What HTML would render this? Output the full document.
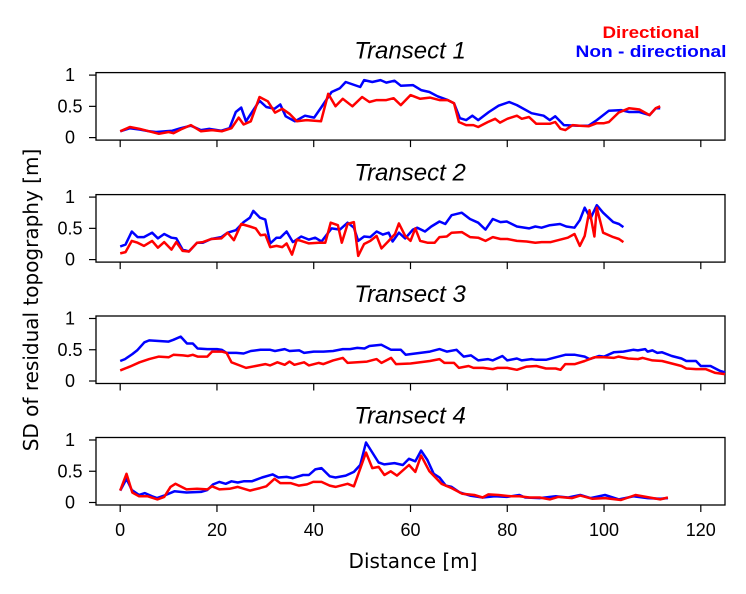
<!DOCTYPE html>
<html><head><meta charset="utf-8"><style>
html,body{margin:0;padding:0;background:#fff;}
svg{display:block;font-family:"Liberation Sans",sans-serif;}
</style></head><body>
<svg id="chart" width="746" height="594" xmlns="http://www.w3.org/2000/svg">
<text x="651" y="38" text-anchor="middle" font-size="17" font-weight="bold" fill="#ff0000" textLength="97" lengthAdjust="spacingAndGlyphs">Directional</text>
<text x="651" y="57" text-anchor="middle" font-size="17" font-weight="bold" fill="#0000ff" textLength="151" lengthAdjust="spacingAndGlyphs">Non - directional</text>
<text transform="translate(38,300) rotate(-90)" text-anchor="middle" font-size="20" font-family="DejaVu Sans, sans-serif" fill="#000">SD of residual topography [m]</text>
<text x="413" y="568" text-anchor="middle" font-size="20" font-family="DejaVu Sans, sans-serif" fill="#000">Distance [m]</text>
<g id="panels"></g>
</svg>
<script>
const xTicks=[0,20,40,60,80,100,120];
const yTicks=[0,0.5,1];
const yTickLabels=["0","0.5","1"];
const titles=["Transect 1","Transect 2","Transect 3","Transect 4"];
const t1BlueX=[0,2,4,6,7.4,10.8,12.5,14.6,16.7,18.4,20.9,22.6,23.9,25,26,28.8,30.2,31.9,33.1,34.2,36.1,38.2,40.1,41.6,43.7,45.4,46.6,49.6,50.4,52.1,53.8,55,56.7,58,60.5,62.2,63.9,65.6,67.7,69,70.2,71.5,72.8,74,76.2,78.2,80.4,82,85,87.5,88.8,89.9,91.7,94.7,96.8,98.5,101,103.5,105.2,107.3,109.4,110.7,111.6];
const t1BlueY=[0.1,0.15,0.13,0.1,0.09,0.11,0.15,0.19,0.12,0.14,0.11,0.15,0.41,0.48,0.26,0.59,0.49,0.46,0.53,0.34,0.26,0.35,0.32,0.49,0.73,0.79,0.89,0.81,0.92,0.89,0.92,0.88,0.91,0.83,0.84,0.76,0.73,0.66,0.6,0.55,0.31,0.28,0.35,0.28,0.41,0.51,0.57,0.52,0.39,0.35,0.28,0.34,0.2,0.19,0.19,0.28,0.43,0.44,0.41,0.41,0.36,0.47,0.47];
const t1RedX=[0,2,4,6,8,10,11,12.5,14.6,16.7,19,21,23,24.5,25.5,27,28.8,30.5,32,33.5,35,36.5,38.5,41.5,43,44.5,46,48,50,51.5,53,55,56.5,58,60,62,64,66,67.7,69,70,71.5,73,74,76,77.5,78.5,80,82,83,84.5,86,88.8,89.9,91,92,93.5,95,96.8,98.5,100,101,103,105.2,107.3,109.4,110.7,111.6];
const t1RedY=[0.1,0.17,0.14,0.1,0.06,0.09,0.07,0.13,0.2,0.1,0.12,0.1,0.15,0.32,0.21,0.26,0.65,0.58,0.4,0.46,0.38,0.26,0.28,0.26,0.7,0.5,0.62,0.5,0.65,0.57,0.6,0.6,0.63,0.52,0.68,0.62,0.64,0.6,0.6,0.55,0.25,0.2,0.2,0.17,0.25,0.3,0.24,0.3,0.35,0.3,0.33,0.22,0.22,0.25,0.14,0.12,0.2,0.19,0.18,0.23,0.23,0.25,0.4,0.47,0.45,0.36,0.47,0.5];
const t2BlueX=[0,1.1,2.4,3.6,4.9,6.6,7.8,9.1,10.6,11.6,12.9,14.2,15.9,17.1,18.8,20.9,22.2,23.9,25.5,26.8,27.5,28.9,30,31,32.3,33.1,34.4,35.7,37.4,39,40.3,41.6,43.7,45.4,47,48.3,49.2,50.4,51.7,53,54.3,55.5,56.3,57.6,58.9,60.5,61.4,63,64.3,66,67.2,68.5,70.6,72.3,74,75.5,77,78.6,79.9,82,84.5,85.8,87.1,88.8,90.9,92.2,93.9,95,96,97.2,98.5,99.8,101.9,103.1,104];
const t2BlueY=[0.21,0.24,0.45,0.36,0.36,0.43,0.34,0.41,0.35,0.34,0.16,0.13,0.27,0.27,0.33,0.36,0.43,0.47,0.6,0.67,0.78,0.67,0.64,0.26,0.35,0.35,0.45,0.28,0.37,0.32,0.35,0.29,0.5,0.48,0.59,0.51,0.3,0.37,0.36,0.45,0.4,0.43,0.29,0.43,0.34,0.48,0.51,0.45,0.53,0.61,0.57,0.71,0.75,0.65,0.59,0.48,0.65,0.6,0.61,0.53,0.5,0.53,0.51,0.55,0.57,0.53,0.51,0.63,0.83,0.66,0.87,0.75,0.6,0.57,0.52];
const t2RedX=[0,1.1,2.4,3.6,4.9,6.6,7.8,9.1,10.6,11.6,12.9,14.2,15.9,17.1,18.8,20.9,22.2,23.5,25,26.8,28,29,30,31,32.3,33.5,34.4,35.5,36.5,37.4,39,41,42.4,43.5,45,45.8,47,48.3,49.2,50.4,51.7,53,54,55.5,56.8,57.6,58.9,60,61,62,63.5,65,66,67.5,68.5,70.6,72.3,74,75.5,77,78.6,80,82,84,85.8,87.1,89,91,92.5,93.9,95,96,97,98,98.5,99.8,101.9,103.1,104];
const t2RedY=[0.1,0.12,0.3,0.27,0.22,0.3,0.19,0.28,0.16,0.28,0.14,0.13,0.27,0.28,0.33,0.34,0.43,0.31,0.57,0.53,0.5,0.39,0.4,0.2,0.22,0.2,0.26,0.08,0.32,0.3,0.26,0.27,0.27,0.59,0.55,0.27,0.57,0.6,0.06,0.25,0.3,0.38,0.18,0.3,0.41,0.58,0.38,0.3,0.5,0.3,0.27,0.27,0.36,0.37,0.43,0.44,0.36,0.35,0.3,0.36,0.33,0.33,0.3,0.29,0.27,0.28,0.28,0.32,0.35,0.41,0.22,0.38,0.79,0.37,0.83,0.43,0.36,0.33,0.28];
const t3BlueX=[0,1,2.5,3.5,5,6,8,10,11,12.5,13.8,15,16,18,20,21,22,24,25.5,27,29,31,32,34,35,37,38,40,42,44,46,47.5,49,50.5,51.5,54,56,58,59,61,64,66,67.5,69.5,71,72.5,74,76,77,79,80,82,83,85,86,88,90,92,94,96,97,99,100,102,104,106,107,108.5,109,110,111,112,114,116,117,119,120,122,124,125];
const t3BlueY=[0.32,0.35,0.43,0.49,0.62,0.65,0.64,0.63,0.66,0.71,0.6,0.6,0.52,0.51,0.51,0.5,0.45,0.45,0.44,0.48,0.5,0.5,0.48,0.51,0.48,0.49,0.45,0.47,0.47,0.48,0.51,0.51,0.53,0.52,0.56,0.58,0.5,0.5,0.42,0.44,0.47,0.51,0.47,0.5,0.39,0.41,0.33,0.35,0.33,0.4,0.33,0.36,0.33,0.35,0.34,0.34,0.38,0.42,0.42,0.39,0.35,0.4,0.39,0.46,0.47,0.5,0.49,0.51,0.47,0.49,0.45,0.46,0.4,0.36,0.32,0.32,0.24,0.24,0.16,0.14];
const t3RedX=[0,2,4,6,8,10,11,13,14,15,16,18,19,21,22,23,25,26,28,30,31,32.5,34,35,36,38,39,41,42,44,46,47,49,51,53,54,56,57,60,62,64,66,67,69,70,72,73,75,77,78,80,82,84,86,88,90,91,92,94,96,98,100,102,103,105,107,108,110,112,114,116,117,119,121,123,125];
const t3RedY=[0.17,0.23,0.3,0.35,0.39,0.38,0.42,0.41,0.4,0.42,0.39,0.39,0.47,0.47,0.45,0.3,0.24,0.21,0.24,0.27,0.25,0.3,0.26,0.31,0.26,0.3,0.25,0.29,0.27,0.33,0.37,0.29,0.3,0.31,0.35,0.29,0.37,0.27,0.28,0.3,0.32,0.35,0.29,0.29,0.21,0.24,0.21,0.21,0.19,0.21,0.21,0.18,0.23,0.24,0.2,0.2,0.18,0.27,0.27,0.32,0.38,0.38,0.37,0.39,0.36,0.35,0.37,0.33,0.32,0.28,0.24,0.2,0.19,0.19,0.13,0.11];
const t4BlueX=[0,1.3,2.4,3.9,5.1,6.6,7.6,9.1,11.2,13.7,16.7,18,19.2,20.5,21.8,23,24.3,25.5,27.2,29.3,31.5,32.7,34.4,35.7,37.8,39,40.3,41.6,43.3,44.5,46.6,48.3,49.6,50.8,52.1,53.4,54.6,56.7,58.4,59.7,61,62.2,63.5,64.8,66,67.3,68.5,70.2,72.3,74.9,77.4,79.9,82.5,83.7,86.7,90,92.6,95.1,97.2,100.2,103.1,106.1,109,111.6,113.2];
const t4BlueY=[0.19,0.38,0.2,0.12,0.15,0.1,0.07,0.11,0.18,0.16,0.17,0.2,0.29,0.33,0.3,0.34,0.32,0.34,0.34,0.4,0.45,0.4,0.41,0.39,0.44,0.44,0.53,0.55,0.42,0.4,0.43,0.49,0.6,0.96,0.8,0.64,0.61,0.63,0.6,0.7,0.66,0.83,0.68,0.46,0.4,0.27,0.25,0.16,0.11,0.08,0.1,0.09,0.12,0.08,0.07,0.1,0.08,0.12,0.07,0.12,0.05,0.1,0.07,0.06,0.07];
const t4RedX=[0,1.3,2.5,3.9,5.7,7.7,9.1,10.4,11.4,13.7,15.9,18,19,20.5,22.6,24.3,26.8,28.9,30.2,31.9,33.1,35.2,36.9,38.6,39.9,41.6,43.3,44.5,47,48.3,50.8,52.1,53.4,54.6,55.9,57.2,59.7,61,62.2,63.9,66.4,68.5,70.7,73.2,74.9,76.1,78.2,80.8,82.5,84.6,86.7,88.8,90.5,93.4,95.1,97.6,100.2,103.5,106.5,109.4,111.6,113.2];
const t4RedY=[0.19,0.46,0.16,0.1,0.1,0.05,0.09,0.25,0.3,0.21,0.22,0.21,0.26,0.21,0.22,0.25,0.19,0.23,0.26,0.38,0.31,0.31,0.27,0.29,0.33,0.33,0.27,0.25,0.3,0.26,0.8,0.55,0.57,0.44,0.5,0.43,0.6,0.49,0.75,0.5,0.3,0.23,0.14,0.12,0.08,0.13,0.12,0.1,0.1,0.08,0.08,0.05,0.09,0.07,0.11,0.06,0.07,0.04,0.12,0.08,0.05,0.08];
const series=[[t1BlueX,t1BlueY,t1RedX,t1RedY],[t2BlueX,t2BlueY,t2RedX,t2RedY],[t3BlueX,t3BlueY,t3RedX,t3RedY],[t4BlueX,t4BlueY,t4RedX,t4RedY]];
const NS="http://www.w3.org/2000/svg";
const L=96,R=725,H=67.5,tops=[72.6,194.6,316,437.5];
const xMin=-5,xMax=125;
function xs(v){return L+(v-xMin)/(xMax-xMin)*(R-L);}
function mk(tag,attrs){const e=document.createElementNS(NS,tag);for(const k in attrs)e.setAttribute(k,attrs[k]);return e;}
const root=document.getElementById('panels');
tops.forEach((top,i)=>{
  const bot=top+H;
  function ys(v){return bot-2.5-v*(H-5);}
  const g=mk('g',{});
  
  
  root.appendChild(g);
  const t=mk('text',{x:410,y:top-14,'text-anchor':'middle','font-size':24,'font-style':'italic',fill:'#000'});
  t.textContent=titles[i];
  
  
  g.appendChild(t);
  const fr=mk('rect',{x:L,y:top,width:R-L,height:H,fill:'none',stroke:'#000','stroke-width':1.3});
  
  
  g.appendChild(fr);
  yTicks.forEach((v,j)=>{
    const ln=mk('line',{x1:L,x2:L-7,y1:ys(v),y2:ys(v),stroke:'#000','stroke-width':1.2});
    
    
    g.appendChild(ln);
    const tx=mk('text',{x:70,y:ys(v)+6,'text-anchor':'middle','font-size':18,fill:'#000'});
    tx.textContent=yTickLabels[j];
    
    
    g.appendChild(tx);
  });
  xTicks.forEach(v=>{
    const ln=mk('line',{x1:xs(v),x2:xs(v),y1:bot,y2:bot+7,stroke:'#000','stroke-width':1.2});
    
    
    g.appendChild(ln);
    if(i===3){
      const tx=mk('text',{x:xs(v),y:bot+31,'text-anchor':'middle','font-size':18,fill:'#000'});
      tx.textContent=String(v);
      
      
      g.appendChild(tx);
    }
  });
  const s=series[i];
  [[s[0],s[1],'#0000ff','non-directional-line'],[s[2],s[3],'#ff0000','directional-line']].forEach(([X,Y,c,n])=>{
    const p=mk('polyline',{points:X.map((x,k)=>xs(x).toFixed(1)+','+ys(Y[k]).toFixed(1)).join(' '),fill:'none',stroke:c,'stroke-width':2.5,'stroke-linejoin':'round'});
    
    
    g.appendChild(p);
  });
});
</script>
</body></html>
